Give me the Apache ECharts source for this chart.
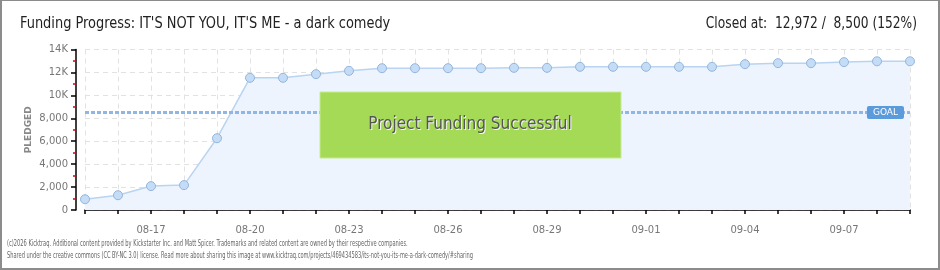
<!DOCTYPE html>
<html>
<head>
<meta charset="utf-8">
<script src="https://cdn.jsdelivr.net/npm/echarts@6/dist/echarts.min.js"></script>
<style>
html,body{margin:0;padding:0;background:#fff;}
#wrap{width:940px;height:270px;box-sizing:border-box;border-style:solid;border-color:#8c8c8c;border-width:1px 2px 2px 2px;position:relative;}
#chart{position:absolute;left:-2px;top:-1px;width:940px;height:270px;}
</style>
</head>
<body>
<div id="wrap"><div id="chart"></div></div>
<script>
const categories = ['08-15','08-16','08-17','08-18','08-19','08-20','08-21','08-22','08-23','08-24','08-25','08-26','08-27','08-28','08-29','08-30','08-31','09-01','09-02','09-03','09-04','09-05','09-06','09-07','09-08','09-09'];
const pledged = [940,1290,2085,2170,6260,11530,11530,11850,12140,12370,12370,12370,12370,12400,12400,12490,12490,12490,12490,12490,12720,12810,12810,12900,12972,12972];
const goal = 8500;
const yMin = 0, yMax = 14000, yInterval = 2000;
const titleText = "Funding Progress: IT'S NOT YOU, IT'S ME - a dark comedy";
const closedText = "Closed at:  12,972 /  8,500 (152%)";
const footer1 = "(c)2026 Kicktraq. Additional content provided by Kickstarter Inc. and Matt Spicer. Trademarks and related content are owned by their respective companies.";
const footer2 = "Shared under the creative commons (CC BY-NC 3.0) license. Read more about sharing this image at www.kicktraq.com/projects/469434583/its-not-you-its-me-a-dark-comedy/#sharing";

const COND = '"DejaVu Sans Condensed", "Roboto", sans-serif';
const chart = echarts.init(document.getElementById('chart'), null, {renderer:'canvas'});
const gray = '#777';
chart.setOption({
  animation:false,
  grid:{left:85, right:30, top:49.5, bottom:60, containLabel:false},
  xAxis:{
    type:'category', data:categories, boundaryGap:false, offset:10,
    axisLine:{lineStyle:{color:'#000', width:1.5}},
    axisTick:{interval:0, length:4, lineStyle:{color:'#000', width:1.5}},
    axisLabel:{interval:(i)=> (i-2)%3===0, color:gray, fontFamily:'DejaVu Sans', fontSize:10, margin:5},
    splitLine:{show:true, interval:0, lineStyle:{color:'#e2e2e2', type:[5,4]}}
  },
  yAxis:{
    type:'value', min:yMin, max:yMax, interval:yInterval, offset:9,
    name:'PLEDGED', nameLocation:'middle', nameGap:43, nameRotate:90, nameMoveOverlap:false,
    nameTextStyle:{color:'#888', fontFamily:'DejaVu Sans', fontSize:9, fontWeight:'bold'},
    axisLine:{show:true, lineStyle:{color:'#000', width:1.5}},
    axisTick:{show:true, length:5, lineStyle:{color:'#000', width:1.5}},
    minorTick:{show:true, splitNumber:2, length:3, lineStyle:{color:'#e00000', width:1.5}},
    axisLabel:{color:gray, fontFamily:'DejaVu Sans', fontSize:10, margin:8,
      formatter:(v)=> v>=10000 ? (v/1000)+'K' : v.toLocaleString('en-US')},
    splitLine:{show:true, lineStyle:{color:'#e2e2e2', type:[5,4]}}
  },
  series:[{
    type:'line', data:pledged, symbol:'circle', symbolSize:9,
    itemStyle:{color:'#c4dcf6', borderColor:'#93b5dc', borderWidth:1},
    lineStyle:{color:'#b8d4f2', width:1.5},
    areaStyle:{color:'#edf4fd', opacity:1},
    z:3,
    markLine:{
      silent:true, symbol:'none', z:4,
      lineStyle:{color:'#8fb6e4', width:3, type:[4,2]},
      label:{show:true, position:'insideEnd', distance:[6,0], formatter:'GOAL',
        backgroundColor:'#5b9bdc', color:'#fff', fontFamily:'DejaVu Sans', fontSize:9,
        padding:[2,6,2,6], borderRadius:2},
      data:[{yAxis:goal}]
    }
  }],
  graphic:{elements:[
    {type:'text', z:100, x:20, y:24, scaleX:0.9, style:{text:titleText, fill:'#222', font:'16px ' + COND, verticalAlign:'middle'}},
    {type:'text', z:100, x:917, y:24, scaleX:0.85, style:{text:closedText, fill:'#222', font:'16px ' + COND, align:'right', verticalAlign:'middle'}},
    {type:'rect', z:100, shape:{x:320,y:92,width:301,height:66}, style:{fill:'#a4da56', stroke:'#c6ec8c', lineWidth:1}},
    {type:'text', z:101, x:471, y:126, style:{text:'Project Funding Successful', fill:'#f4f4f4', font:'17px ' + COND, align:'center', verticalAlign:'middle'}},
    {type:'text', z:102, x:470, y:125, style:{text:'Project Funding Successful', fill:'#555', font:'17px ' + COND, align:'center', verticalAlign:'middle'}},
    {type:'text', z:100, x:7, y:244, scaleX:0.632, style:{text:footer1, fill:'#666', font:'9px ' + COND, verticalAlign:'middle'}},
    {type:'text', z:100, x:7, y:256, scaleX:0.627, style:{text:footer2, fill:'#666', font:'9px ' + COND, verticalAlign:'middle'}}
  ]}
});
</script>
</body>
</html>
